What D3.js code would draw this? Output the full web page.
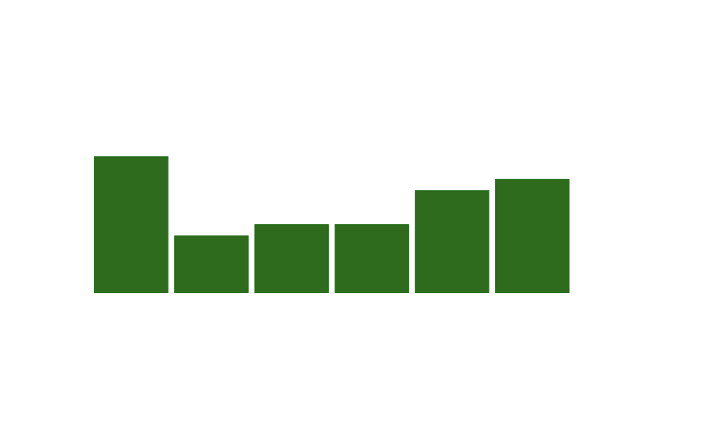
<!DOCTYPE html>
<html>
<head>
<meta charset="utf-8">
<script src="https://cdn.jsdelivr.net/npm/d3@7"></script>
<style>
  body { margin: 0; background: #fff; }
</style>
</head>
<body>
<div id="chart"></div>
<script>
// bar data
let categories = ["a", "b", "c", "d", "e", "f"];
let values = [12, 5, 6, 6, 9, 10];

let width = 720,
    height = 443;

let svg = d3.select("#chart").append("svg")
    .attr("width", width)
    .attr("height", height);

// band scale for the bars, no outer padding
let x = d3.scaleBand()
    .domain(categories)
    .range([94.5, 569])
    .paddingInner(0.085)
    .paddingOuter(0);

let y = d3.scaleLinear()
    .domain([0, 12])
    .range([292.5, 156.8]);

svg.selectAll(".bar").data(values).enter().append("rect")
    .attr("class", "bar")
    .attr("x", function(d, i){ return x(categories[i]); })
    .attr("y", function(d){ return y(d); })
    .attr("width", x.bandwidth())
    .attr("height", function(d){ return y(0) - y(d); })
    .style("fill", "#2e6b1c")
    .style("stroke", "#1f6a15")
    .style("stroke-width", 1);
</script>
</body>
</html>
